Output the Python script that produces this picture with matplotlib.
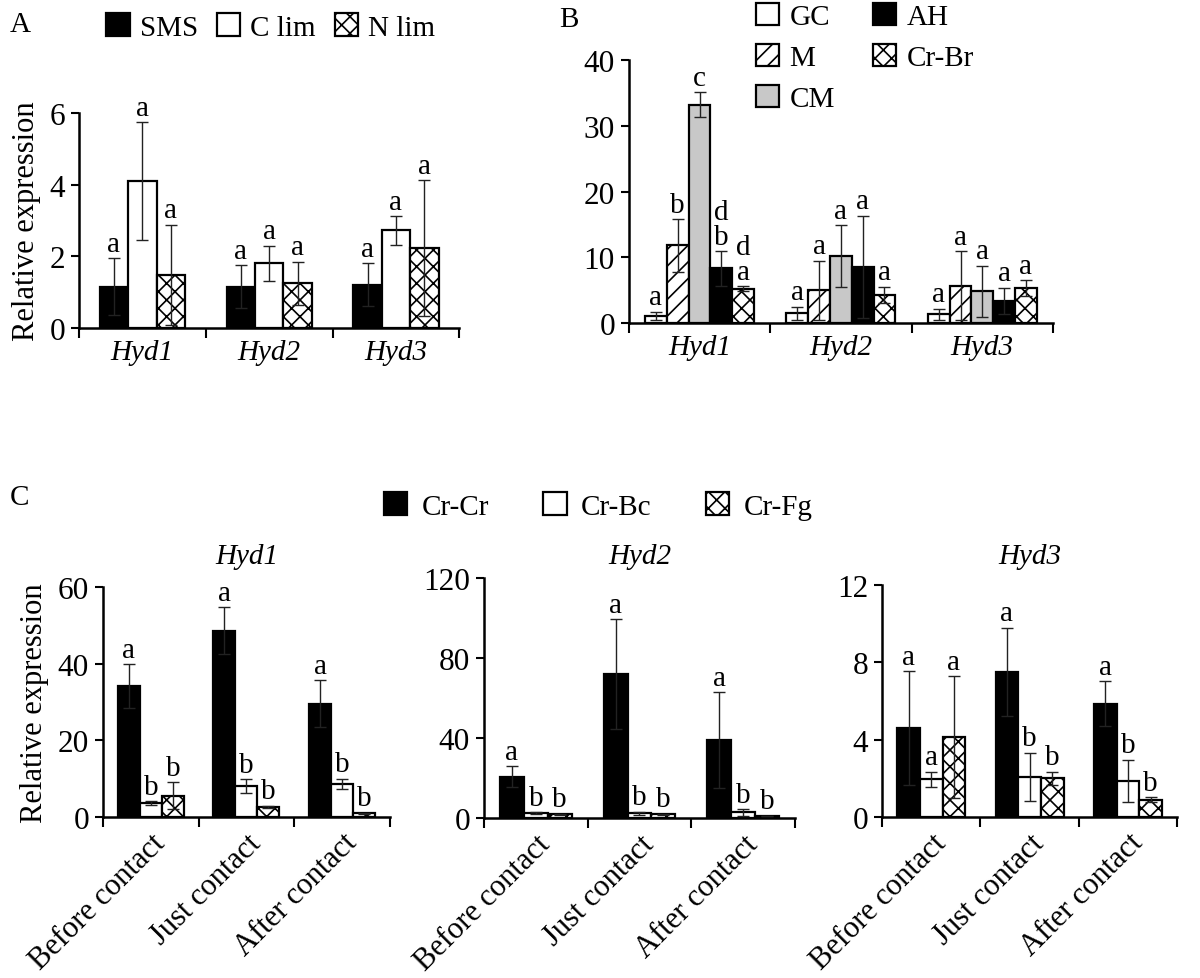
import matplotlib
matplotlib.use("Agg")
import matplotlib.pyplot as plt
from matplotlib.patches import Patch
import numpy as np

plt.rcParams["font.family"] = ["Liberation Serif", "DejaVu Serif"]
plt.rcParams["hatch.linewidth"] = 1.2

# ── Panel A: culture conditions ──────────────────────────────
A_genes = ["Hyd1", "Hyd2", "Hyd3"]
A_labels = ["SMS", "C lim", "N lim"]
A_sms = [1.15, 1.15, 1.2]
A_sms_err = [0.8, 0.6, 0.6]
A_clim = [4.1, 1.8, 2.72]
A_clim_err = [1.65, 0.5, 0.4]
A_nlim = [1.48, 1.25, 2.22]
A_nlim_err = [1.4, 0.6, 1.9]
A_sms_let = ["a", "a", "a"]
A_clim_let = ["a", "a", "a"]
A_nlim_let = ["a", "a", "a"]

# ── Panel B: developmental stages ────────────────────────────
B_genes = ["Hyd1", "Hyd2", "Hyd3"]
B_labels = ["GC", "M", "CM", "AH", "Cr-Br"]
B_gc = [1.1, 1.5, 1.3]
B_gc_err = [0.6, 1.0, 0.9]
B_m = [11.8, 5.0, 5.7]
B_m_err = [4.0, 4.5, 5.2]
B_cm = [33.2, 10.2, 4.8]
B_cm_err = [1.9, 4.7, 3.9]
B_ah = [8.3, 8.5, 3.4]
B_ah_err = [2.6, 7.8, 2.0]
B_crbr = [5.2, 4.3, 5.3]
B_crbr_err = [0.4, 1.2, 1.2]
B_gc_let = ["a", "a", "a"]
B_m_let = ["b", "a", "a"]
B_cm_let = ["c", "a", "a"]
B_ah_let = ["d\nb", "a", "a"]
B_crbr_let = ["d\na", "a", "a"]

# ── Panel C: interactions ────────────────────────────────────
C_stages = ["Before contact", "Just contact", "After contact"]
C_labels = ["Cr-Cr", "Cr-Bc", "Cr-Fg"]
C_genes = ["Hyd1", "Hyd2", "Hyd3"]

hyd1_crcr = [34.1, 48.6, 29.6]
hyd1_crcr_err = [5.8, 6.2, 6.1]
hyd1_crbc = [3.6, 8.0, 8.6]
hyd1_crbc_err = [0.5, 1.8, 1.4]
hyd1_crfg = [5.5, 2.6, 1.0]
hyd1_crfg_err = [3.5, 0.3, 0.1]
hyd1_let = [["a", "a", "a"], ["b", "b", "b"], ["b", "b", "b"]]

hyd2_crcr = [20.7, 72.0, 39.0]
hyd2_crcr_err = [5.3, 27.5, 24.0]
hyd2_crbc = [2.5, 2.4, 2.8]
hyd2_crbc_err = [0.5, 0.8, 1.7]
hyd2_crfg = [1.8, 1.8, 1.0]
hyd2_crfg_err = [0.3, 0.3, 0.2]
hyd2_let = [["a", "a", "a"], ["b", "b", "b"], ["b", "b", "b"]]

hyd3_crcr = [4.6, 7.5, 5.87]
hyd3_crcr_err = [2.95, 2.3, 1.15]
hyd3_crbc = [1.95, 2.07, 1.86]
hyd3_crbc_err = [0.4, 1.25, 1.1]
hyd3_crfg = [4.14, 1.99, 0.88]
hyd3_crfg_err = [3.15, 0.35, 0.13]
hyd3_let = [["a", "a", "a"], ["a", "b", "b"], ["a", "b", "b"]]

STYLES = {
    "black": dict(facecolor="black", hatch=None),
    "white": dict(facecolor="white", hatch=None),
    "cross": dict(facecolor="white", hatch="xx"),
    "diag":  dict(facecolor="white", hatch="//"),
    "gray":  dict(facecolor="#c8c8c8", hatch=None),
}
FS = 21        # legends, letters, gene labels
FS_TICK = 22.5  # y tick numbers
FS_LAB = 22    # axis labels, rotated stage labels


def style_axes(ax, ylim, yticks, xlabels, italic, rotate=False):
    ax.set_xlim(-0.5, len(xlabels) - 0.5)
    ax.set_ylim(*ylim)
    ax.set_yticks(yticks)
    ax.tick_params(axis="y", labelsize=FS_TICK, length=6, width=1.5, pad=4, direction="out")
    for s in ["top", "right"]:
        ax.spines[s].set_visible(False)
    for s in ["left", "bottom"]:
        ax.spines[s].set_linewidth(1.8)
    ax.set_xticks(np.arange(len(xlabels)))
    ax.set_xticks(np.arange(len(xlabels) + 1) - 0.5, minor=True)
    ax.tick_params(axis="x", which="minor", length=7, width=1.5, direction="out")
    ax.tick_params(axis="x", which="major", length=0, pad=8)
    if rotate:
        ax.set_xticklabels(xlabels, fontsize=FS_LAB, rotation=45, ha="right",
                           va="top", rotation_mode="anchor")
    else:
        ax.set_xticklabels(xlabels, fontsize=FS, style="italic" if italic else "normal")


def draw_bars(ax, series, width):
    n = len(series)
    for i, (vals, errs, style, lets) in enumerate(series):
        x = np.arange(len(vals)) + (i - (n - 1) / 2) * width
        st = STYLES[style]
        ax.bar(x, vals, width, color=st["facecolor"], edgecolor="black",
               linewidth=1.6, hatch=st["hatch"], zorder=2)
        ax.errorbar(x, vals, yerr=errs, fmt="none", ecolor="#222222",
                    elinewidth=1.0, capsize=4.5, capthick=1.0, zorder=3)
        for xi, v, e, t in zip(x, vals, errs, lets):
            ax.annotate(t, (xi, v + e), xytext=(0, 1), textcoords="offset points",
                        ha="center", va="bottom", fontsize=FS, linespacing=0.95)


def legend_handles(styles):
    return [Patch(facecolor=STYLES[s]["facecolor"], edgecolor="black",
                  hatch=STYLES[s]["hatch"], linewidth=1.6) for s in styles]


fig = plt.figure(figsize=(12, 9.79), dpi=100)

# Panel A
axA = fig.add_axes([0.0658, 0.664, 0.317, 0.2196])
draw_bars(axA, [(A_sms, A_sms_err, "black", A_sms_let),
                (A_clim, A_clim_err, "white", A_clim_let),
                (A_nlim, A_nlim_err, "cross", A_nlim_let)], 0.224)
style_axes(axA, (0, 6), [0, 2, 4, 6], A_genes, italic=True)
axA.set_ylabel("Relative expression", fontsize=FS_LAB, labelpad=6)
fig.legend(legend_handles(["black", "white", "cross"]), A_labels,
           loc="center left", bbox_to_anchor=(0.0885, 1 - 28 / 979), ncol=3,
           frameon=False, fontsize=FS, handlelength=0.8, handleheight=0.8,
           handletextpad=0.35, columnspacing=0.65, borderpad=0, borderaxespad=0)
fig.text(0.008, 1 - 25 / 979, "A", fontsize=FS, va="center")

# Panel B
axB = fig.add_axes([0.524, 0.669, 0.3535, 0.2687])
draw_bars(axB, [(B_gc, B_gc_err, "white", B_gc_let),
                (B_m, B_m_err, "diag", B_m_let),
                (B_cm, B_cm_err, "gray", B_cm_let),
                (B_ah, B_ah_err, "black", B_ah_let),
                (B_crbr, B_crbr_err, "cross", B_crbr_let)], 0.154)
style_axes(axB, (0, 40), [0, 10, 20, 30, 40], B_genes, italic=True)
fig.legend(legend_handles(["white", "diag", "gray", "black", "cross"]), B_labels,
           loc="upper left", bbox_to_anchor=(0.630, 1 - 4 / 979), ncol=2,
           frameon=False, fontsize=FS, handlelength=0.8, handleheight=0.8,
           handletextpad=0.35, columnspacing=1.3, labelspacing=0.47,
           borderpad=0, borderaxespad=0)
fig.text(0.466, 1 - 20 / 979, "B", fontsize=FS, va="center")

# Panel C
C_rects = [[0.0858, 0.1645, 0.2392, 0.2349],
           [0.4033, 0.1634, 0.2592, 0.2452],
           [0.735, 0.1645, 0.246, 0.2369]]
C_data = [
    (hyd1_crcr, hyd1_crcr_err, hyd1_crbc, hyd1_crbc_err, hyd1_crfg, hyd1_crfg_err, hyd1_let, (0, 60), [0, 20, 40, 60]),
    (hyd2_crcr, hyd2_crcr_err, hyd2_crbc, hyd2_crbc_err, hyd2_crfg, hyd2_crfg_err, hyd2_let, (0, 120), [0, 40, 80, 120]),
    (hyd3_crcr, hyd3_crcr_err, hyd3_crbc, hyd3_crbc_err, hyd3_crfg, hyd3_crfg_err, hyd3_let, (0, 12), [0, 4, 8, 12]),
]
for rect, gene, d in zip(C_rects, C_genes, C_data):
    ax = fig.add_axes(rect)
    cc, cce, cb, cbe, cf, cfe, lets, ylim, yt = d
    draw_bars(ax, [(cc, cce, "black", lets[0]),
                   (cb, cbe, "white", lets[1]),
                   (cf, cfe, "cross", lets[2])], 0.23)
    style_axes(ax, ylim, yt, C_stages, italic=False, rotate=True)
    fig.text(rect[0] + rect[2] / 2, 1 - 557 / 979, gene, fontsize=FS,
             style="italic", ha="center", va="center")
    if gene == "Hyd1":
        ax.set_ylabel("Relative expression", fontsize=FS_LAB, labelpad=6)

fig.legend(legend_handles(["black", "white", "cross"]), C_labels,
           loc="center left", bbox_to_anchor=(0.320, 1 - 507 / 979), ncol=3,
           frameon=False, fontsize=FS, handlelength=0.8, handleheight=0.8,
           handletextpad=0.5, columnspacing=1.85, borderpad=0, borderaxespad=0)
fig.text(0.008, 1 - 498 / 979, "C", fontsize=FS, va="center")

fig.savefig("out.png", dpi=100)
